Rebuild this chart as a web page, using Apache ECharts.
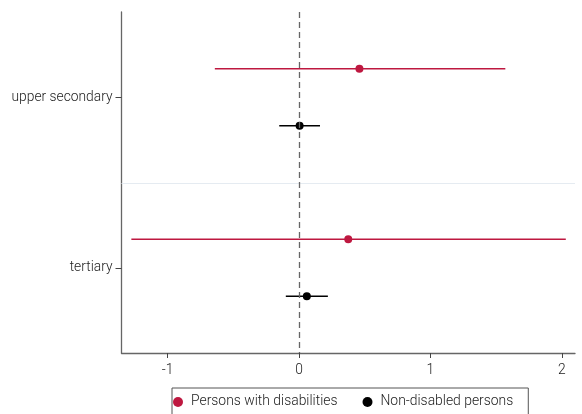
<!DOCTYPE html>
<html><head><meta charset="utf-8">
<script src="https://cdn.jsdelivr.net/npm/echarts@6/dist/echarts.min.js"></script>
<style>html,body{margin:0;padding:0;background:#fff}#c{width:582px;height:414px}</style>
</head><body><div id="c"></div>
<script>
const categories = ['upper secondary', 'tertiary'];
const seriesNames = ['Persons with disabilities', 'Non-disabled persons'];
// [estimate, lower CI, upper CI] per category
const disabledEst = [0.46, 0.375];
const disabledLo = [-0.64, -1.275];
const disabledHi = [1.57, 2.03];
const nondisEst = [0.005, 0.06];
const nondisLo = [-0.15, -0.10];
const nondisHi = [0.16, 0.22];
const xTicks = [-1, 0, 1, 2];

const colors = ['#BE1840', '#000000'];
const FONT = 'Roboto';
const FW = 300;

function mk(est, lo, hi) { return categories.map((c, i) => [i, est[i], lo[i], hi[i]]); }

function renderer(offsetFrac, color, drawSeparator) {
  return function (params, api) {
    const cat = api.value(0);
    const band = api.size([0, 1])[1];
    const off = band * offsetFrac;
    const pE = api.coord([api.value(1), cat]);
    const pL = api.coord([api.value(2), cat]);
    const pH = api.coord([api.value(3), cat]);
    const y = pE[1] + off;
    const children = [];
    if (drawSeparator && cat < categories.length - 1) {
      const cs = params.coordSys;
      const ys = Math.round(pE[1] + band / 2) + 0.5;
      children.push({ type: 'line', z2: -10, shape: { x1: cs.x, y1: ys, x2: cs.x + cs.width, y2: ys }, style: { stroke: '#e5ebf1', lineWidth: 1 } });
    }
    children.push({ type: 'line', shape: { x1: pL[0], y1: y, x2: pH[0], y2: y }, style: { stroke: color, lineWidth: 1.6 } });
    children.push({ type: 'circle', shape: { cx: pE[0], cy: y, r: 4 }, style: { fill: color } });
    return { type: 'group', children: children };
  };
}

const chart = echarts.init(document.getElementById('c'), null, { renderer: 'canvas' });
chart.setOption({
  animation: false,
  textStyle: { fontFamily: FONT, fontWeight: FW },
  grid: { left: 121.5, right: 7, top: 12, bottom: 61, containLabel: false },
  legend: {
    data: seriesNames.map((n, i) => ({ name: n, icon: 'circle', itemStyle: { color: colors[i] } })),
    left: 172, top: 388,
    itemWidth: 16, itemHeight: 10, itemGap: 25,
    borderColor: '#555', borderWidth: 1, padding: [7, 15, 10, 1],
    textStyle: { fontFamily: FONT, fontWeight: FW, fontSize: 13.9, color: '#222' }
  },
  xAxis: {
    type: 'value', min: -1.35, max: 2.1,
    axisLine: { show: true, onZero: false, lineStyle: { color: '#666', width: 1.3 } },
    axisTick: { show: true, customValues: xTicks, length: 5, lineStyle: { color: '#444' } },
    axisLabel: { customValues: xTicks, margin: 11, fontSize: 13.8, color: '#222', fontFamily: FONT, fontWeight: FW },
    splitLine: { show: false }
  },
  yAxis: {
    type: 'category', data: categories, inverse: true,
    axisLine: { show: true, onZero: false, lineStyle: { color: '#666', width: 1.3 } },
    axisTick: { show: true, alignWithLabel: true, length: 6, lineStyle: { color: '#444' } },
    axisLabel: { margin: 9, fontSize: 13.8, color: '#222', fontFamily: FONT, fontWeight: FW },
    splitLine: { show: false }
  },
  series: [
    {
      name: seriesNames[0], type: 'custom', itemStyle: { color: colors[0] },
      renderItem: renderer(-0.167, colors[0], true),
      encode: { x: [1, 2, 3], y: 0 },
      data: mk(disabledEst, disabledLo, disabledHi),
      z: 2
    },
    {
      name: seriesNames[1], type: 'custom', itemStyle: { color: colors[1] },
      renderItem: renderer(0.167, colors[1], false),
      encode: { x: [1, 2, 3], y: 0 },
      data: mk(nondisEst, nondisLo, nondisHi),
      markLine: {
        silent: true, symbol: 'none', label: { show: false },
        lineStyle: { color: '#666', type: [6, 4], width: 1.3 },
        data: [{ xAxis: 0 }]
      },
      z: 4
    }
  ]
});
</script></body></html>
